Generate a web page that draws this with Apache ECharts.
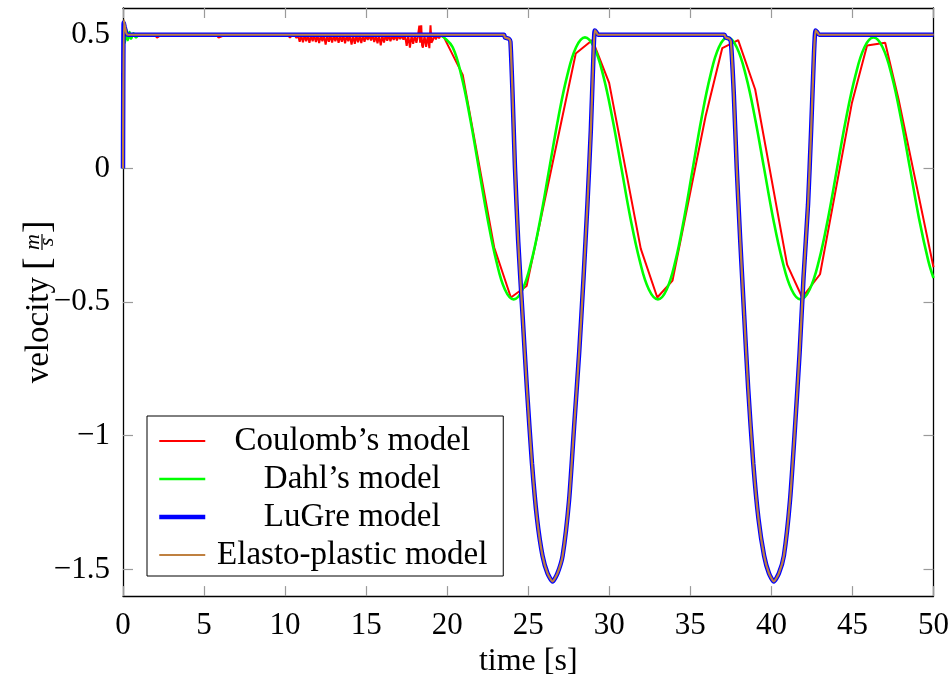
<!DOCTYPE html>
<html>
<head>
<meta charset="utf-8">
<script src="https://cdn.jsdelivr.net/npm/echarts@6/dist/echarts.min.js"></script>
<style>
  html, body { margin: 0; padding: 0; background: #fff; }
  #chart { width: 952px; height: 683px; }
</style>
</head>
<body>
<div id="chart"></div>
<script>
// ---- data ----
const seriesNames = ['Coulomb\u2019s model', 'Dahl\u2019s model', 'LuGre model', 'Elasto-plastic model'];
const xTicks = [0, 5, 10, 15, 20, 25, 30, 35, 40, 45, 50];
const yTicks = [-1.5, -1, -0.5, 0, 0.5];

const coulomb = [
  [0, 0], [0.03, 0.5], [2.0, 0.497], [2.1, 0.489], [2.3, 0.497], [3.5, 0.497], [3.6, 0.49], [3.9, 0.497],
  [5.8, 0.497], [5.9, 0.489], [6.2, 0.497], [8.3, 0.497], [8.4, 0.49], [8.6, 0.497], [10.0, 0.497],
  [10.1, 0.490], [10.2, 0.497], [10.3, 0.489], [10.4, 0.497], [10.5, 0.491], [10.6, 0.497], [10.7, 0.488],
  [10.8, 0.497], [10.9, 0.474], [11.0, 0.497], [11.1, 0.472], [11.2, 0.497], [11.3, 0.476], [11.4, 0.497],
  [11.5, 0.470], [11.6, 0.497], [11.7, 0.476], [11.8, 0.497], [11.9, 0.473], [12.0, 0.497], [12.1, 0.469],
  [12.2, 0.497], [12.3, 0.476], [12.4, 0.497], [12.5, 0.463], [12.6, 0.497], [12.7, 0.474], [12.8, 0.497],
  [12.9, 0.471], [13.0, 0.497], [13.1, 0.476], [13.2, 0.497], [13.3, 0.470], [13.4, 0.497], [13.5, 0.474],
  [13.6, 0.497], [13.7, 0.468], [13.8, 0.497], [13.9, 0.476], [14.0, 0.497], [14.1, 0.463], [14.2, 0.497],
  [14.3, 0.466], [14.4, 0.497], [14.5, 0.472], [14.6, 0.497], [14.7, 0.469], [14.8, 0.497], [14.9, 0.474],
  [15.0, 0.497], [15.1, 0.481], [15.2, 0.497], [15.3, 0.479], [15.4, 0.497], [15.5, 0.473], [15.6, 0.497],
  [15.7, 0.468], [15.8, 0.497], [15.9, 0.460], [16.0, 0.497], [16.1, 0.471], [16.2, 0.497], [16.3, 0.478],
  [16.4, 0.497], [16.5, 0.476], [16.6, 0.497], [16.7, 0.481], [16.8, 0.497], [16.9, 0.479], [17.0, 0.497],
  [17.1, 0.484], [17.2, 0.497], [17.3, 0.482], [17.4, 0.497], [17.5, 0.458], [17.6, 0.497], [17.7, 0.452],
  [17.8, 0.497], [17.9, 0.466], [18.0, 0.497], [18.1, 0.470], [18.2, 0.497], [18.28, 0.534], [18.33, 0.47],
  [18.4, 0.535], [18.45, 0.46], [18.5, 0.452], [18.6, 0.497], [18.7, 0.455], [18.8, 0.497], [18.9, 0.450],
  [18.97, 0.535], [19.03, 0.47], [19.1, 0.478], [19.2, 0.497], [19.3, 0.483], [19.4, 0.497], [19.5, 0.487],
  [19.6, 0.497], [19.8, 0.49], [20.96, 0.35], [22.9, -0.296], [23.93, -0.483], [24.9, -0.44], [27.93, 0.43],
  [28.96, 0.48], [29.99, 0.32], [31.94, -0.30], [32.96, -0.483], [33.9, -0.42], [35.94, 0.195], [36.97, 0.45],
  [37.95, 0.48], [39.0, 0.295], [40.97, -0.36], [41.9, -0.483], [43.0, -0.396], [44.97, 0.246], [45.9, 0.46],
  [47.02, 0.47], [47.84, 0.26], [50, -0.37]
];

const dahl = [
  [0, 0], [0.05, 0.53], [0.12, 0.47], [0.2, 0.52], [0.3, 0.48], [0.4, 0.51], [0.5, 0.485], [0.65, 0.505],
  [0.8, 0.49], [1.0, 0.5], [19.5, 0.5], [19.8, 0.49],
  [20.34, 0.453], [20.88, 0.346], [21.41, 0.188], [21.95, 0], [22.49, -0.188], [23.03, -0.346], [23.56, -0.453], [24.1, -0.49],
  [24.65, -0.453], [25.2, -0.346], [25.75, -0.188], [26.3, 0], [26.85, 0.188], [27.4, 0.346], [27.95, 0.453], [28.5, 0.49],
  [29.06, 0.453], [29.63, 0.346], [30.19, 0.188], [30.75, 0], [31.31, -0.188], [31.88, -0.346], [32.44, -0.453], [33.0, -0.49],
  [33.54, -0.453], [34.08, -0.346], [34.61, -0.188], [35.15, 0], [35.69, 0.188], [36.23, 0.346], [36.76, 0.453], [37.3, 0.49],
  [37.86, 0.453], [38.43, 0.346], [38.99, 0.188], [39.55, 0], [40.11, -0.188], [40.68, -0.346], [41.24, -0.453], [41.8, -0.49],
  [42.36, -0.453], [42.93, -0.346], [43.49, -0.188], [44.05, 0], [44.61, 0.188], [45.18, 0.346], [45.74, 0.453], [46.3, 0.49],
  [46.86, 0.453], [47.43, 0.346], [47.99, 0.188], [48.55, 0], [49.11, -0.188], [49.68, -0.346], [50, -0.41]
];

const lugre = [
  [0, 0], [0.04, 0.546], [0.1, 0.53], [0.2, 0.505], [0.3, 0.5], [23.5, 0.5], [23.56, 0.49], [23.8, 0.485],
  [23.9, 0.474], [24.03, 0.28], [24.18, 0.004], [24.38, -0.273], [24.65, -0.55], [24.92, -0.826], [25.23, -1.103],
  [25.54, -1.31], [25.88, -1.449], [26.19, -1.515], [26.5, -1.545], [26.8, -1.515], [27.12, -1.449], [27.52, -1.24],
  [27.83, -0.965], [28.14, -0.69], [28.41, -0.41], [28.65, -0.135], [28.86, 0.142], [29.02, 0.419], [29.1, 0.516],
  [29.2, 0.51], [29.3, 0.5], [37.1, 0.5], [37.18, 0.49], [37.4, 0.485], [37.5, 0.474], [37.68, 0.28], [37.86, 0.004],
  [38.08, -0.273], [38.32, -0.55], [38.57, -0.826], [38.88, -1.103], [39.2, -1.31], [39.55, -1.449], [39.85, -1.515],
  [40.15, -1.545], [40.46, -1.515], [40.77, -1.449], [41.15, -1.24], [41.46, -0.965], [41.74, -0.69], [41.98, -0.41],
  [42.26, -0.135], [42.45, 0.142], [42.62, 0.419], [42.72, 0.516], [42.82, 0.51], [42.95, 0.5], [50, 0.5]
];

const elastoPlastic = [
  [0, 0], [0.05, 0.555], [0.12, 0.53], [0.2, 0.507], [0.3, 0.5], [23.5, 0.5], [23.56, 0.49], [23.8, 0.485],
  [23.9, 0.474], [24.03, 0.28], [24.18, 0.004], [24.38, -0.273], [24.65, -0.55], [24.92, -0.826], [25.23, -1.103],
  [25.54, -1.31], [25.88, -1.449], [26.19, -1.515], [26.5, -1.545], [26.8, -1.515], [27.12, -1.449], [27.52, -1.24],
  [27.83, -0.965], [28.14, -0.69], [28.41, -0.41], [28.65, -0.135], [28.86, 0.142], [29.02, 0.419], [29.1, 0.516],
  [29.2, 0.51], [29.3, 0.5], [37.1, 0.5], [37.18, 0.49], [37.4, 0.485], [37.5, 0.474], [37.68, 0.28], [37.86, 0.004],
  [38.08, -0.273], [38.32, -0.55], [38.57, -0.826], [38.88, -1.103], [39.2, -1.31], [39.55, -1.449], [39.85, -1.515],
  [40.15, -1.545], [40.46, -1.515], [40.77, -1.449], [41.15, -1.24], [41.46, -0.965], [41.74, -0.69], [41.98, -0.41],
  [42.26, -0.135], [42.45, 0.142], [42.62, 0.419], [42.72, 0.516], [42.82, 0.51], [42.95, 0.5], [50, 0.5]
];

// ---- styling ----
const FONT = '"Liberation Serif", "Times New Roman", serif';
const colors = ['#ff0000', '#00ff00', '#0000ff', '#bf8040'];
const widths = [2, 2.6, 4.5, 2.2];
const seriesData = [coulomb, dahl, lugre, elastoPlastic];
const fmt = v => String(v).replace('-', '\u2212');

const axisLineStyle = { color: '#000', width: 1.3 };
const tickStyle = { color: '#9a9a9a', width: 1.2 };

const chart = echarts.init(document.getElementById('chart'), null, { renderer: 'canvas' });
chart.setOption({
  animation: false,
  backgroundColor: '#fff',
  grid: { left: 123, right: 17, top: 8, bottom: 86 },
  xAxis: [
    {
      type: 'value', min: 0, max: 50, interval: 5, position: 'bottom',
      axisLine: { show: true, onZero: false, lineStyle: axisLineStyle },
      axisTick: { show: true, inside: true, length: 10, lineStyle: tickStyle },
      axisLabel: { fontSize: 31, fontFamily: FONT, color: '#000', margin: 14, formatter: fmt },
      splitLine: { show: false },
      name: 'time [s]', nameLocation: 'middle', nameGap: 47,
      nameTextStyle: { fontSize: 32, fontFamily: FONT, color: '#000' }
    },
    {
      type: 'value', min: 0, max: 50, interval: 5, position: 'top',
      axisLine: { show: true, onZero: false, lineStyle: axisLineStyle },
      axisTick: { show: true, inside: true, length: 10, lineStyle: tickStyle },
      axisLabel: { show: false }, splitLine: { show: false }
    }
  ],
  yAxis: [
    {
      type: 'value', min: -1.6, max: 0.6, position: 'left',
      axisLine: { show: true, onZero: false, lineStyle: axisLineStyle },
      axisTick: { show: true, inside: true, length: 10, lineStyle: tickStyle, customValues: yTicks },
      axisLabel: { fontSize: 31, fontFamily: FONT, color: '#000', margin: 13, customValues: yTicks, formatter: fmt },
      splitLine: { show: false }
    },
    {
      type: 'value', min: -1.6, max: 0.6, position: 'right',
      axisLine: { show: true, onZero: false, lineStyle: axisLineStyle },
      axisTick: { show: true, inside: true, length: 10, lineStyle: tickStyle, customValues: yTicks },
      axisLabel: { show: false, customValues: yTicks }, splitLine: { show: false }
    }
  ],
  legend: {
    orient: 'vertical', left: 147, top: 416,
    padding: [8, 9, 4, 10], itemGap: 4, itemWidth: 46, itemHeight: 14,
    borderColor: '#000', borderWidth: 1, borderRadius: 0, backgroundColor: '#fff',
    itemStyle: { opacity: 0 },
    formatter: n => '{c|' + n + '}',
    textStyle: {
      fontSize: 33, fontFamily: FONT, color: '#000', lineHeight: 34,
      rich: { c: { width: 284, height: 34, align: 'center', fontSize: 33, fontFamily: FONT, color: '#000', lineHeight: 34 } }
    },
    data: seriesNames.map((n, i) => ({ name: n, itemStyle: { opacity: 0 }, lineStyle: { width: widths[i] } }))
  },
  graphic: [{
    type: 'group', x: 38, y: 306, rotation: Math.PI / 2,
    children: [
      { type: 'text', x: 29, y: 1.5, style: { text: 'velocity', font: '33px ' + FONT, fill: '#000', align: 'right', verticalAlign: 'middle' } },
      { type: 'text', x: 36, y: 1.5, style: { text: '[', font: '38px ' + FONT, fill: '#000', align: 'left', verticalAlign: 'middle' } },
      { type: 'text', x: 64, y: -4.5, style: { text: 'm', font: 'italic 22px ' + FONT, fill: '#000', align: 'center', verticalAlign: 'middle' } },
      { type: 'line', shape: { x1: 56, y1: 4, x2: 72, y2: 4 }, style: { stroke: '#000', lineWidth: 1.2 } },
      { type: 'text', x: 64, y: 9.5, style: { text: 's', font: 'italic 22px ' + FONT, fill: '#000', align: 'center', verticalAlign: 'middle' } },
      { type: 'text', x: 73, y: 1.5, style: { text: ']', font: '38px ' + FONT, fill: '#000', align: 'left', verticalAlign: 'middle' } }
    ]
  }],
  series: seriesNames.map((n, i) => ({
    name: n, type: 'line', data: seriesData[i],
    xAxisIndex: 0, yAxisIndex: 0,
    showSymbol: false, symbol: 'none',
    smooth: i === 1 ? 0.4 : (i >= 2 ? 0.2 : false),
    lineStyle: { color: colors[i], width: widths[i] },
    itemStyle: { color: colors[i] },
    z: 2 + i
  }))
});
</script>
</body>
</html>
